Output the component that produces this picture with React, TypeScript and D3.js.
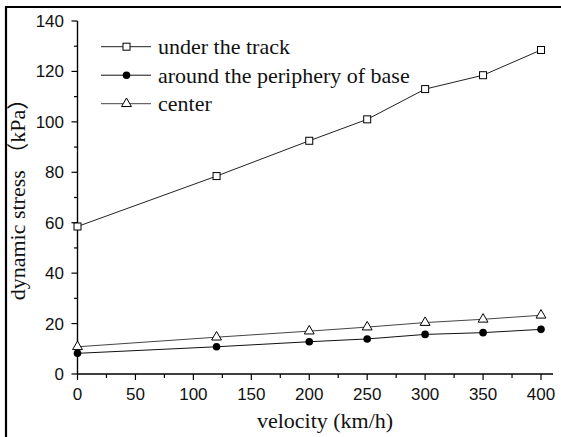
import React from "react";
import * as d3 from "d3";

const velocity = [0, 120, 200, 250, 300, 350, 400];
const underTrack = [58.5, 78.5, 92.5, 101, 113, 118.5, 128.5];
const aroundBase = [8.2, 10.8, 12.8, 13.9, 15.7, 16.4, 17.7];
const centerStress = [10.8, 14.6, 17, 18.6, 20.4, 21.7, 23.3];

const seriesNames = ["under the track", "around the periphery of base", "center"];
const xTicks = [0, 50, 100, 150, 200, 250, 300, 350, 400];
const yTicks = [0, 20, 40, 60, 80, 100, 120, 140];

const W = 561;
const H = 437;
const serif = "'Times New Roman', 'Liberation Serif', 'Noto Sans CJK SC', serif";
const sans = "Arial, 'Liberation Sans', sans-serif";

const x = d3.scaleLinear().domain([0, 400]).range([77.5, 541]);
const y = d3.scaleLinear().domain([0, 140]).range([374, 21]);

type Kind = "square" | "circle" | "triangle";

function Marker({ kind, cx, cy }: { kind: Kind; cx: number; cy: number }) {
  if (kind === "square") {
    return <rect x={cx - 3.5} y={cy - 3.5} width={7} height={7} fill="#fff" stroke="#000" strokeWidth={1} />;
  }
  if (kind === "circle") {
    return <circle cx={cx} cy={cy} r={3.8} fill="#000" />;
  }
  const p = d3.symbol().type(d3.symbolTriangle).size(42)() as string;
  return <path d={p} transform={`translate(${cx},${cy})`} fill="#fff" stroke="#000" strokeWidth={1} />;
}

export default function App() {
  const series: { values: number[]; kind: Kind; color: string }[] = [
    { values: underTrack, kind: "square", color: "#222" },
    { values: aroundBase, kind: "circle", color: "#111" },
    { values: centerStress, kind: "triangle", color: "#444" },
  ];
  const line = d3
    .line<[number, number]>()
    .x((d) => x(d[0]))
    .y((d) => y(d[1]));

  const xMinor = d3.range(0, 401, 25);
  const yMinor = d3.range(0, 141, 10);
  const legendY = [46.7, 75.2, 103.7];

  return (
    <svg
      width={W}
      height={H}
      style={{ position: "absolute", left: 0, top: 0, background: "#fff" }}
    >
      <rect x={0} y={0} width={W} height={H} fill="#fff" />
      {/* frame */}
      <line x1={5} y1={7} x2={W} y2={7} stroke="#000" strokeWidth={2.2} />
      <line x1={6} y1={6} x2={6} y2={H} stroke="#000" strokeWidth={2.2} />

      {/* axes */}
      <line x1={x(0)} y1={y(0)} x2={553} y2={y(0)} stroke="#000" strokeWidth={1.4} />
      <line x1={x(0)} y1={y(140)} x2={x(0)} y2={y(0)} stroke="#000" strokeWidth={1.4} />

      {xMinor.map((v) => (
        <line
          key={"xt" + v}
          x1={x(v)}
          x2={x(v)}
          y1={y(0)}
          y2={y(0) + (v % 50 === 0 ? 6 : 4)}
          stroke="#000"
          strokeWidth={1.2}
        />
      ))}
      {yMinor.map((v) => (
        <line
          key={"yt" + v}
          x1={x(0)}
          x2={x(0) - (v % 20 === 0 ? 6 : 3.5)}
          y1={y(v)}
          y2={y(v)}
          stroke="#000"
          strokeWidth={1.2}
        />
      ))}
      {xTicks.map((v) => (
        <text key={"xl" + v} x={x(v)} y={400} textAnchor="middle" fontFamily={sans} fontSize={17} fill="#111">
          {v}
        </text>
      ))}
      {yTicks.map((v) => (
        <text key={"yl" + v} x={64} y={y(v) + 6} textAnchor="end" fontFamily={sans} fontSize={17} fill="#111">
          {v}
        </text>
      ))}

      {/* axis titles */}
      <text x={325} y={428} textAnchor="middle" fontFamily={serif} fontSize={22} fill="#111">
        velocity (km/h)
      </text>
      <text
        transform="translate(25,194) rotate(-90)"
        textAnchor="middle"
        fontFamily={serif}
        fontSize={22}
        fill="#111"
      >
        dynamic stress （kPa）
      </text>

      {/* series */}
      {series.map((s, i) => {
        const pts = velocity.map((v, j) => [v, s.values[j]] as [number, number]);
        return (
          <g key={"s" + i}>
            <path d={line(pts) as string} fill="none" stroke={s.color} strokeWidth={1} />
            {pts.map((p, j) => (
              <Marker key={j} kind={s.kind} cx={x(p[0])} cy={y(p[1])} />
            ))}
          </g>
        );
      })}

      {/* legend */}
      {seriesNames.map((name, i) => (
        <g key={"lg" + i}>
          <line x1={101} x2={151} y1={legendY[i]} y2={legendY[i]} stroke={series[i].color} strokeWidth={1} />
          <Marker kind={series[i].kind} cx={126.5} cy={legendY[i]} />
          <text x={158} y={legendY[i] + 7.5} fontFamily={serif} fontSize={22} fill="#111">
            {name}
          </text>
        </g>
      ))}
    </svg>
  );
}
